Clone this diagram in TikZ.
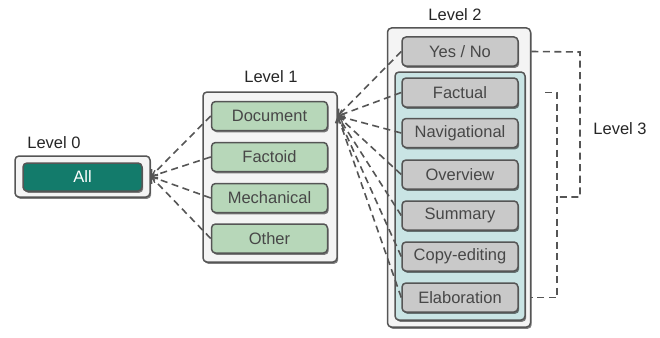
\documentclass[tikz,border=0pt]{standalone}
\usepackage{fontspec}
\setmainfont{Liberation Sans}
\usetikzlibrary{arrows.meta,shadows}
\definecolor{edge}{HTML}{555555}
\definecolor{outerfill}{HTML}{F4F4F4}
\definecolor{greenfill}{HTML}{B7D7B9}
\definecolor{tealdark}{HTML}{137B6B}
\definecolor{cyanfill}{HTML}{C9E4E4}
\definecolor{grayfill}{HTML}{C9C9C9}
\definecolor{txt}{HTML}{474747}
\tikzset{
  every node/.style={font=\fontsize{16.5}{19}\selectfont},
  shadowed/.style={drop shadow={shadow xshift=1.2pt,shadow yshift=-1.8pt,fill=black,opacity=0.5}},
  outerbox/.style={draw=edge,line width=1.5pt,fill=outerfill,rounded corners=4pt,shadowed},
  itembox/.style={draw=edge,line width=1.5pt,rounded corners=4pt,minimum width=116pt,minimum height=29pt,inner sep=0pt,text=txt,shadowed},
  greenitem/.style={itembox,fill=greenfill},
  grayitem/.style={itembox,fill=grayfill},
  levellabel/.style={text=black!85,inner sep=0pt},
  conn/.style={draw=edge,line width=1.6pt,dash pattern=on 7pt off 4.5pt},
  arrowconn/.style={conn,-{Straight Barb[length=5pt,width=9pt,line width=1.3pt]}},
}
\begin{document}
\begin{tikzpicture}[x=1pt,y=-1pt]
\useasboundingbox (0,0) rectangle (660,337);
% Level 0
\node[outerbox,minimum width=135pt,minimum height=41pt] (l0box) at (82.5,176.5) {};
\node[itembox,fill=tealdark,text=white,minimum width=119pt,minimum height=28pt] (all) at (82.5,177) {All};
\node[levellabel] (lab0) at (54,143) {Level 0};
% Level 1
\node[outerbox,minimum width=134pt,minimum height=170pt] (l1box) at (270,177) {};
\node[greenitem] (doc) at (269.5,116) {Document};
\node[greenitem] (fact) at (269.5,157) {Factoid};
\node[greenitem] (mech) at (269.5,198) {Mechanical};
\node[greenitem] (other) at (269.5,238.5) {Other};
\node[levellabel] (lab1) at (271,77) {Level 1};
% Level 2
\node[outerbox,minimum width=143pt,minimum height=299pt] (l2box) at (459,177.5) {};
\node[grayitem] (yesno) at (460,51.5) {Yes / No};
\node[draw=edge,line width=1.5pt,fill=cyanfill,rounded corners=4pt,shadowed,minimum width=130pt,minimum height=248pt] (l2inner) at (460,196) {};
\node[grayitem] (factual) at (460,92.5) {Factual};
\node[grayitem] (nav) at (460,133) {Navigational};
\node[grayitem] (over) at (460,174.5) {Overview};
\node[grayitem] (summ) at (460,215.5) {Summary};
\node[grayitem] (copy) at (460,256.5) {Copy-editing};
\node[grayitem] (elab) at (460,297.5) {Elaboration};
\node[levellabel] (lab2) at (455,15) {Level 2};
% Level 3
\node[levellabel] (lab3) at (620,129) {Level 3};
% connectors level 1 -> level 0
\foreach \n in {doc,fact,mech,other}
  \draw[arrowconn] (\n.west) -- (l0box.east);
% connectors level 2 -> level 1
\coordinate (hub) at (l1box.east |- doc.east);
\foreach \n in {yesno,factual,nav,over,summ,copy,elab}
  \draw[arrowconn] (\n.west) -- (hub);
% brackets
\coordinate (b1) at (580,52);
\coordinate (b2) at (580,197);
\coordinate (b3) at (557,197);
\draw[conn] (l2box.east |- yesno.east) -- (b1) -- (b2) -- (b3);
\coordinate (c0) at (545,92.5);
\coordinate (c1) at (557,92.5);
\coordinate (c2) at (557,297.5);
\draw[conn] (c0) -- (c1) -- (c2) -- (l2box.east |- elab.east);
\end{tikzpicture}
\end{document}
